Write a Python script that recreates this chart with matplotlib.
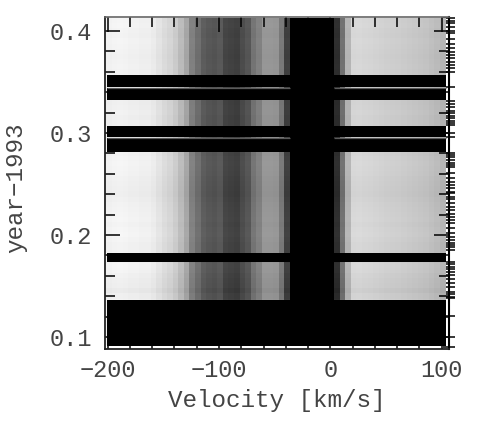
import numpy as np
import matplotlib
matplotlib.use("Agg")
import matplotlib.pyplot as plt
from matplotlib.ticker import FixedLocator, FixedFormatter

# Velocity columns (km/s) and their mean grey level
velocity = [-200,-195,-190,-185,-180,-175,-170,-165,-160,-155,-150,-145,-140,-135,-130,-125,-120,-115,-110,-105,
            -100,-95,-90,-85,-80,-75,-70,-65,-60,-55,-50,-45,-40,-35,-30,-25,-20,-15,-10,-5,
            0,5,10,15,20,25,30,35,40,45,50,55,60,65,70,75,80,85,90,95,100]
grey = [240,242,243,242,240,240,238,238,234,226,218,212,202,186,165,128,110,92,86,83,
        88,68,65,62,75,85,115,128,150,150,148,120,62,0,0,0,0,0,0,0,
        0,45,112,180,214,215,213,212,210,208,206,205,204,202,200,198,196,194,190,186,180]

# Observation rows (year-1993) and brightness offset of each row
row_year = [0.41,0.405,0.40,0.395,0.39,0.385,0.38,0.375,0.37,0.365,0.36,0.355,0.35,0.345,0.34,0.335,0.33,0.325,0.32,0.315,
            0.31,0.305,0.30,0.295,0.29,0.285,0.28,0.275,0.27,0.265,0.26,0.255,0.25,0.245,0.24,0.235,0.23,0.225,0.22,0.215,
            0.21,0.205,0.20,0.195,0.19,0.185,0.18,0.175,0.17,0.165,0.16,0.155,0.15,0.145,0.14,0.135,0.13,0.125,0.12,0.115,
            0.11,0.105,0.10,0.095]
row_offset = [2,3,1,0,2,1,0,-1,0,1,0,0,0,0,0,0,-3,-2,-1,-3,
              -2,-2,-1,0,0,0,0,2,3,2,1,-1,-2,-3,-4,-2,0,1,2,3,
              1,3,4,2,0,0,0,0,3,2,-1,-3,-4,-8,-3,0,0,0,0,0,
              0,0,0,0]

# Rows with no data (year-1993): lower and upper limits
band_lo = [0.3448,0.3324,0.2961,0.2809,0.1732,0.0915]
band_hi = [0.3569,0.3436,0.3069,0.2946,0.1826,0.1366]
gap_year = [0.3442,0.2953]

# Observation dates marked on the right axis
obs_year = [0.4124,0.4101,0.4075,0.4042,0.4003,0.3977,0.3919,0.3870,0.3830,0.3797,0.3765,0.3732,0.3699,0.3667,0.3634,0.3601,
            0.3454,0.3317,0.3284,0.3252,0.3219,0.3193,0.3167,0.3144,0.3121,0.3095,0.3075,0.2997,0.2964,
            0.2807,0.2784,0.2762,0.2735,0.2709,0.2686,0.2664,0.2611,0.2556,0.2523,0.2490,0.2458,0.2425,0.2409,0.2376,0.2350,
            0.2310,0.2278,0.2245,0.2203,0.2180,0.2147,0.2114,0.2065,0.2017,0.1977,0.1951,0.1925,0.1902,0.1879,0.1853,
            0.1738,0.1716,0.1689,0.1663,0.1640,0.1608,0.1566,0.1527,0.1493,0.1444,0.1422,0.1395,0.1379,0.1206,0.1003,0.0899]
major_y = [0.1,0.2,0.3,0.4]
minor_y = [0.12,0.14,0.16,0.18,0.22,0.24,0.26,0.28,0.32,0.34,0.36,0.38]
major_x = [-200,-100,0,100]
minor_x = [-180,-160,-140,-120,-80,-60,-40,-20,20,40,60,80]

plt.rcParams['font.family'] = ['Liberation Mono', 'DejaVu Sans']
W, H = 485, 422
fig = plt.figure(figsize=(W/100, H/100), dpi=100)
ax = fig.add_axes([105/W, 1-349/H, 344/W, 332/H])

vel = np.array(velocity, float)
yrs = np.array(row_year, float)
x_edges = np.append(vel-1.5, vel[-1]+3.5)
y_edges = np.append(yrs+0.0027, yrs[-1]-0.0027)
Z = np.array(grey, float)[None, :] + np.array(row_offset, float)[:, None]*(np.array(grey)>0)[None, :]
ax.pcolormesh(x_edges, y_edges, Z, cmap='gray', vmin=0, vmax=255, shading='flat', rasterized=True)

lo, hi = np.array(band_lo), np.array(band_hi)
ax.barh(lo, 304, height=hi-lo, left=-200.5, align='edge', color='black', linewidth=0, zorder=2)
for g in gap_year:
    ax.plot([-200.5,-36.5],[g,g],color='#5a5a5a',lw=0.9,zorder=2,solid_capstyle='butt')
    ax.plot([3.5,103.5],[g,g],color='#5a5a5a',lw=0.9,zorder=2,solid_capstyle='butt')

ax.set_xlim(-202.4, 106.6)
ax.set_ylim(0.0882, 0.4137)

ax.xaxis.set_major_locator(FixedLocator(major_x))
ax.xaxis.set_minor_locator(FixedLocator(minor_x))
ax.yaxis.set_major_locator(FixedLocator(major_y))
ax.yaxis.set_minor_locator(FixedLocator(minor_y))
ax.set_xticklabels(['\u2212200','\u2212100','0','100'])
ax.set_yticklabels(['0.1','0.2','0.3','0.4'])
ax.tick_params(axis='both', which='major', direction='in', length=11, width=1.1, color='black',
               top=True, right=True, labelsize=17, labelcolor='#444444', zorder=5)
ax.tick_params(axis='both', which='minor', direction='in', length=7.5, width=1.1, color='black',
               top=True, right=True, zorder=5)
ax.tick_params(axis='y', which='major', pad=9)
ax.tick_params(axis='x', which='major', pad=7)
ax.set_xlabel('Velocity [km/s]', fontsize=17.5, color='#444444', labelpad=5)
ax.set_ylabel('year\u22121993', fontsize=17.5, color='#444444')
ax.yaxis.set_label_coords(-0.225, 0.486)

for s, w, c in [('left',1.3,'#222222'),('bottom',1.3,'#222222'),('top',1.2,'#666666'),('right',1.5,'black')]:
    ax.spines[s].set_linewidth(w); ax.spines[s].set_color(c); ax.spines[s].set_zorder(6)

sec = ax.secondary_yaxis('right')
sec.yaxis.set_major_locator(FixedLocator(obs_year))
sec.yaxis.set_major_formatter(FixedFormatter([]))
sec.tick_params(axis='y', which='major', direction='inout', length=8, width=1.1, color='black', labelright=False)
sec.spines['right'].set_visible(False)

fig.savefig('out.png', dpi=100)
